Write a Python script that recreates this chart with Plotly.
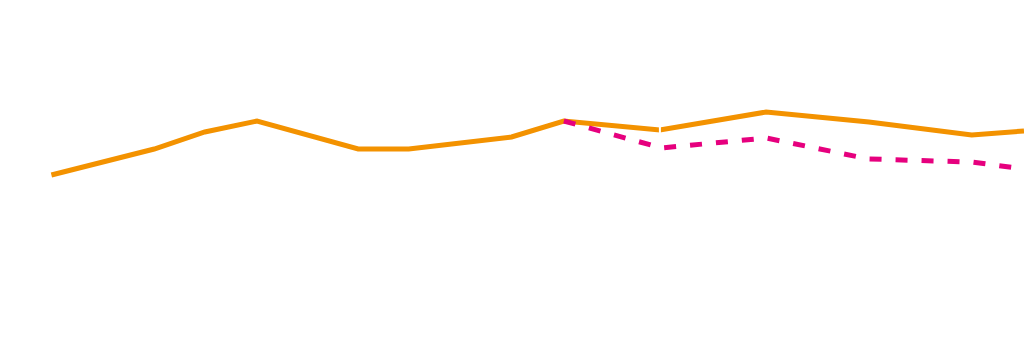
import plotly.graph_objects as go

# Orange (actual) series
actual_dates = ["2018-01-01", "2018-03-03", "2018-04-02", "2018-05-03", "2018-07-02",
                "2018-08-01", "2018-10-01", "2018-11-01", "2018-12-28", "2019-03-01",
                "2019-05-01", "2019-07-01", "2019-08-01"]
actual_values = [7.5, 10.1, 11.8, 12.9, 10.1, 10.1, 11.3, 12.9, 12.0, 13.8, 12.8, 11.5, 11.9]

# Pink (dashed) series
forecast_dates = ["2018-11-01", "2018-12-29", "2019-03-01", "2019-05-01", "2019-07-01", "2019-08-01"]
forecast_values = [12.9, 10.2, 11.2, 9.1, 8.8, 8.1]

marker_date = "2018-12-28"

fig = go.Figure()
fig.add_trace(go.Scatter(x=actual_dates, y=actual_values, mode="lines",
                         line=dict(color="#F39200", width=5), hoverinfo="skip"))
fig.add_trace(go.Scatter(x=forecast_dates, y=forecast_values, mode="lines",
                         line=dict(color="#E6007E", width=5, dash="12px,14px"), hoverinfo="skip"))

fig.add_shape(type="line", x0=marker_date, x1=marker_date, y0=0, y1=1, yref="paper",
              line=dict(color="white", width=2), layer="above")

fig.update_layout(
    width=1024, height=340,
    margin=dict(l=0, r=0, t=0, b=0),
    paper_bgcolor="white", plot_bgcolor="white",
    showlegend=False,
    xaxis=dict(visible=False, range=["2017-12-01 12:00", "2019-08-01"]),
    yaxis=dict(visible=False, range=[-9, 25]),
)

fig.write_html("out.html")
